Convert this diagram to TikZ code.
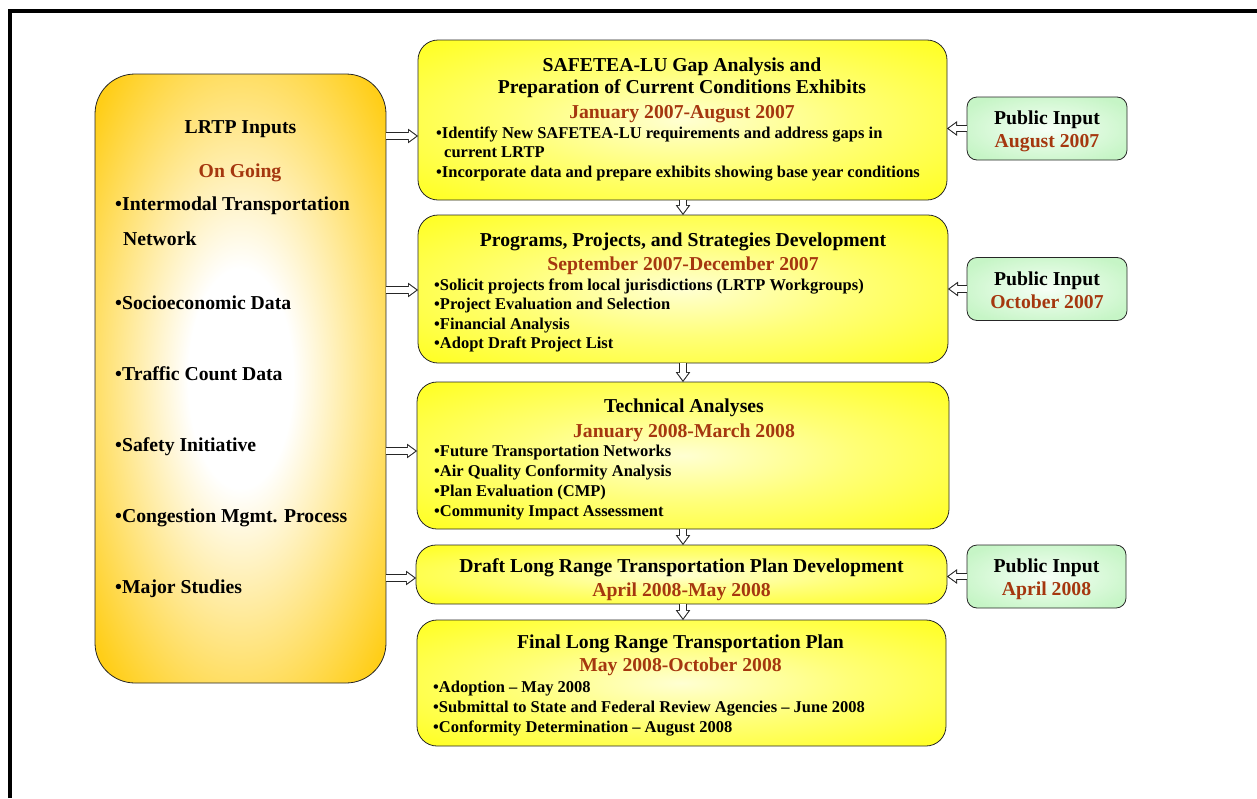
\documentclass[tikz,border=0pt]{standalone}
\usepackage{fontspec}
\setmainfont{Liberation Serif}
\usetikzlibrary{arrows.meta}
\definecolor{gold}{RGB}{255,206,24}
\definecolor{ybox}{RGB}{255,255,28}
\definecolor{ymid}{RGB}{255,255,120}
\definecolor{ylight}{RGB}{255,255,210}
\definecolor{datec}{RGB}{165,55,15}
\definecolor{gedge}{RGB}{198,245,198}
\definecolor{glight}{RGB}{246,255,246}
\pgfdeclareradialshading{lglow}{\pgfpoint{0bp}{0bp}}{color(0bp)=(white); color(9bp)=(white); color(33bp)=(gold); color(50bp)=(gold)}
\pgfdeclareradialshading{yglow}{\pgfpoint{0bp}{0bp}}{color(0bp)=(ylight); color(16bp)=(ymid); color(36bp)=(ybox); color(50bp)=(ybox)}
\pgfdeclareradialshading{gglow}{\pgfpoint{0bp}{0bp}}{color(0bp)=(glight); color(30bp)=(gedge); color(50bp)=(gedge)}
\tikzset{
  lbox/.style={draw=black!85, line width=0.8pt, rounded corners=40pt, shade, shading=lglow, outer sep=0pt, inner sep=0pt, minimum width=291pt, minimum height=609pt},
  ybx/.style={draw=black!85, line width=0.8pt, rounded corners=20pt, shade, shading=yglow, outer sep=0pt, inner sep=0pt},
  gbx/.style={draw=black!85, line width=0.8pt, rounded corners=10pt, shade, shading=gglow, outer sep=0pt, inner sep=0pt, minimum width=160pt, minimum height=63pt},
  ttl/.style={font=\fontsize{19.7}{23}\selectfont\bfseries, inner sep=0pt, anchor=base},
  dat/.style={ttl, text=datec},
  bul/.style={font=\fontsize{16.5}{20}\selectfont\bfseries, inner sep=0pt, anchor=base west},
  lft/.style={font=\fontsize{19.7}{23}\selectfont\bfseries, inner sep=0pt, anchor=base west},
  arrout/.style={black!85, line width=7.6pt, -{Triangle[width=14.5pt,length=10pt,line width=0.4pt]}},
  arrin/.style={white, line width=5.6pt, shorten >=1.75pt, -{Triangle[width=10.7pt,length=7.3pt,line width=0pt]}},
}
\begin{document}
\begin{tikzpicture}[x=1pt,y=-1pt]
\useasboundingbox (0,0) rectangle (1257,798);
% frame
\draw[line width=4pt] (9.5,798) -- (9.5,11) -- (1257,11);

% boxes
\node[lbox] (L) at (240.5,378.5) {};
\node[ybx, minimum width=529pt, minimum height=160pt] (B1) at (682.5,120) {};
\node[ybx, minimum width=530pt, minimum height=148pt] (B2) at (683,289) {};
\node[ybx, minimum width=532pt, minimum height=147pt] (B3) at (683,455.5) {};
\node[ybx, minimum width=531pt, minimum height=59pt] (B4) at (681.5,574.5) {};
\node[ybx, minimum width=529pt, minimum height=126pt] (B5) at (681.5,683) {};
\node[gbx] (P1) at (1047,128.5) {};
\node[gbx] (P2) at (1047,289) {};
\node[gbx, minimum width=159pt] (P3) at (1046.5,576.5) {};

% left box text
\node[ttl] (l0) at (240.5,133) {LRTP Inputs};
\node[dat] (l1) at (240,177) {On Going};
\node[lft] (l2) at (115,210) {•Intermodal Transportation};
\node[lft] (l3) at (123,245) {Network};
\node[lft] (l4) at (115,309) {•Socioeconomic Data};
\node[lft] (l5) at (115,380) {•Traffic Count Data};
\node[lft] (l6) at (115,451) {•Safety Initiative};
\node[lft] (l7) at (115,522) {•Congestion Mgmt. Process};
\node[lft] (l8) at (115,593) {•Major Studies};

% box 1
\node[ttl] (a1) at (682,71) {SAFETEA-LU Gap Analysis and};
\node[ttl] (a2) at (682,93) {Preparation of Current Conditions Exhibits};
\node[dat] (a3) at (682,118) {January 2007-August 2007};
\node[bul] (a4) at (436,138) {•Identify New SAFETEA-LU requirements and address gaps in};
\node[bul] (a5) at (444,157) {current LRTP};
\node[bul] (a6) at (436,177) {•Incorporate data and prepare exhibits showing base year conditions};

% box 2
\node[ttl] (b1) at (683,246) {Programs, Projects, and Strategies Development};
\node[dat] (b2) at (683,270) {September 2007-December 2007};
\node[bul] (b3) at (434,290) {•Solicit projects from local jurisdictions (LRTP Workgroups)};
\node[bul] (b4) at (434,309) {•Project Evaluation and Selection};
\node[bul] (b5) at (434,329) {•Financial Analysis};
\node[bul] (b6) at (434,348) {•Adopt Draft Project List};

% box 3
\node[ttl] (c1) at (684,412) {Technical Analyses};
\node[dat] (c2) at (684,437) {January 2008-March 2008};
\node[bul] (c3) at (434,456) {•Future Transportation Networks};
\node[bul] (c4) at (434,476) {•Air Quality Conformity Analysis};
\node[bul] (c5) at (434,496) {•Plan Evaluation (CMP)};
\node[bul] (c6) at (434,516) {•Community Impact Assessment};

% box 4
\node[ttl] (d1) at (681.5,572) {Draft Long Range Transportation Plan Development};
\node[dat] (d2) at (681.5,596) {April 2008-May 2008};

% box 5
\node[ttl] (e1) at (680.5,648) {Final Long Range Transportation Plan};
\node[dat] (e2) at (680.5,671) {May 2008-October 2008};
\node[bul] (e3) at (433,692) {•Adoption – May 2008};
\node[bul] (e4) at (433,712) {•Submittal to State and Federal Review Agencies – June 2008};
\node[bul] (e5) at (433,732) {•Conformity Determination – August 2008};

% public input text
\node[ttl] (p1a) at (1047,124) {Public Input};
\node[dat] (p1b) at (1047,147) {August 2007};
\node[ttl] (p2a) at (1047,285) {Public Input};
\node[dat] (p2b) at (1047,308) {October 2007};
\node[ttl] (p3a) at (1046.5,572) {Public Input};
\node[dat] (p3b) at (1046.5,595) {April 2008};

% arrow rows
\coordinate (y1) at (0,136);
\coordinate (y2) at (0,290);
\coordinate (y3) at (0,451);
\coordinate (y4) at (0,578);
\coordinate (xd) at (683,0);

\foreach \s/\t in {L.east |- y1/B1.west |- y1, L.east |- y2/B2.west |- y2, L.east |- y3/B3.west |- y3, L.east |- y4/B4.west |- y4,
                   P1.west/B1.east |- P1.west, P2.west/B2.east |- P2.west, P3.west/B4.east |- P3.west,
                   xd |- B1.south/xd |- B2.north, xd |- B2.south/xd |- B3.north, xd |- B3.south/xd |- B4.north, xd |- B4.south/xd |- B5.north}
{
  \draw[arrout] (\s) -- (\t);
  \draw[arrin] (\s) -- (\t);
}
\end{tikzpicture}
\end{document}
